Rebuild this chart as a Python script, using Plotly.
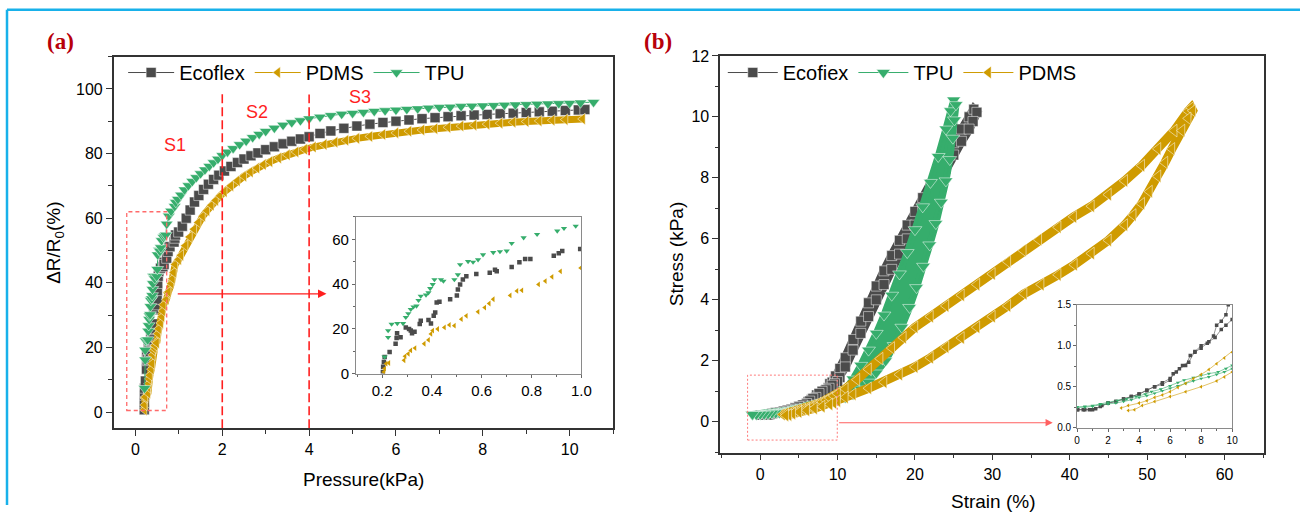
import plotly.graph_objects as go

# ---------------- Panel (a): dR/R0 vs pressure ----------------
ecoflex_p = [0.203, 0.204, 0.207, 0.21, 0.23, 0.254, 0.258, 0.26, 0.274, 0.295, 0.308, 0.315, 0.32, 0.33,
             0.351, 0.355, 0.386, 0.396, 0.407, 0.413, 0.419, 0.43, 0.473, 0.5, 0.504, 0.513, 0.524, 0.538,
             0.578, 0.632, 0.653, 0.66, 0.72, 0.751, 0.774, 0.795, 0.889, 0.909, 0.923, 0.995,
             1.08, 1.17, 1.26, 1.36, 1.46, 1.57, 1.68, 1.8, 1.92, 2.05, 2.2, 2.35, 2.5, 2.66, 2.82, 3.0,
             3.2, 3.4, 3.6, 3.8, 4.0, 4.25, 4.5, 4.8, 5.1, 5.4, 5.7, 6.0, 6.3, 6.6, 6.9, 7.2, 7.5, 7.8,
             8.1, 8.4, 8.7, 9.0, 9.3, 9.6, 9.9, 10.2, 10.35]
ecoflex_r = [0.7, 3, 5.2, 7.4, 9.6, 13.3, 15.9, 18, 16.2, 20.6, 19.9, 19.2, 18, 18.7,
             22.1, 23.6, 23.9, 22.4, 25.8, 27.3, 31.7, 32.1, 33.2, 34.9, 37.6, 39.8, 42, 43.5,
             44.5, 45, 46.4, 45.7, 47.6, 49.7, 51.2, 51.2, 52.6, 53.8, 54.8, 55.7,
             57.5, 60, 62.5, 65, 67, 68.9, 70.5, 72, 73.3, 74.6, 76.0, 77.2, 78.3, 79.3, 80.2, 81.2,
             82.1, 83.0, 83.8, 84.5, 85.2, 86.2, 87.0, 87.8, 88.5, 89.1, 89.6, 90.0, 90.4, 90.8, 91.1, 91.4,
             91.7, 91.9, 92.1, 92.3, 92.5, 92.7, 92.9, 93.1, 93.3, 93.5, 93.6]

pdms_p = [0.207, 0.21, 0.216, 0.227, 0.288, 0.292, 0.305, 0.315, 0.332, 0.369, 0.386, 0.396, 0.403, 0.423,
          0.45, 0.47, 0.49, 0.518, 0.538, 0.585, 0.612, 0.63, 0.646, 0.714, 0.741, 0.761, 0.828, 0.855,
          0.882, 0.916, 0.997,
          1.05, 1.15, 1.25, 1.35, 1.45, 1.55, 1.65, 1.75, 1.85, 1.95, 2.05, 2.2, 2.35, 2.5, 2.65, 2.8,
          2.95, 3.1, 3.3, 3.5, 3.7, 3.9, 4.1, 4.35, 4.6, 4.85, 5.1, 5.4, 5.7, 6.0, 6.3, 6.6, 6.9, 7.2,
          7.5, 7.8, 8.1, 8.4, 8.7, 9.0, 9.3, 9.6, 9.9, 10.3]
pdms_r = [0.7, 2.2, 4.4, 4.7, 5.9, 7.7, 8.8, 10.3, 11.4, 13.3, 15, 17.7, 19.2, 19.9,
          20.6, 21.7, 21.4, 24.3, 25.8, 27.6, 29.5, 31.3, 33.2, 34.9, 36.9, 37.2, 39.8, 41.3,
          43.2, 45.7, 47.2,
          48.5, 51.5, 54.2, 56.6, 58.7, 60.6, 62.3, 64.0, 65.5, 66.9, 68.2, 70.0, 71.6, 73.0, 74.3, 75.5,
          76.6, 77.5, 78.6, 79.6, 80.5, 81.3, 82.0, 82.8, 83.5, 84.1, 84.7, 85.3, 85.9, 86.4, 86.9, 87.3,
          87.7, 88.1, 88.5, 88.8, 89.1, 89.4, 89.7, 89.9, 90.1, 90.3, 90.5, 90.7]

tpu_p = [0.21, 0.224, 0.224, 0.238, 0.261, 0.284, 0.295, 0.305, 0.315, 0.326, 0.338, 0.346, 0.355, 0.376,
         0.386, 0.393, 0.403, 0.41, 0.436, 0.446, 0.49, 0.504, 0.513, 0.545, 0.565, 0.585, 0.605, 0.646,
         0.673, 0.7, 0.72, 0.768, 0.822, 0.903, 0.93, 0.977,
         1.05, 1.13, 1.22, 1.31, 1.4, 1.5, 1.6, 1.7, 1.8, 1.9, 2.0, 2.12, 2.25, 2.4, 2.55, 2.7, 2.85,
         3.0, 3.2, 3.4, 3.6, 3.8, 4.0, 4.25, 4.5, 4.75, 5.0, 5.25, 5.5, 5.75, 6.0, 6.25, 6.5, 6.75,
         7.0, 7.25, 7.5, 7.75, 8.0, 8.25, 8.5, 8.75, 9.0, 9.25, 9.5, 9.75, 10.0, 10.25, 10.55]
tpu_r = [7.4, 19.2, 16.2, 22.1, 22.4, 22.4, 25.1, 26.8, 28.7, 29.8, 30.2, 32.7, 34.6, 35.1,
         36.1, 38, 39.8, 42, 42, 41.3, 42, 44.2, 48.7, 50.1, 49.8, 50.9, 53.1, 54.1,
         54.5, 54.8, 58.2, 60.7, 62.2, 63.7, 64.9, 65.9,
         67.2, 68.8, 70.1, 71.4, 72.6, 73.8, 75.0, 76.1, 77.2, 78.3, 79.4, 80.5, 81.6, 82.8, 83.9, 85.0, 86.0,
         86.9, 87.9, 88.8, 89.6, 90.2, 90.8, 91.3, 91.8, 92.2, 92.5, 92.8, 93.1, 93.3, 93.5, 93.7, 93.9, 94.1,
         94.3, 94.4, 94.6, 94.7, 94.8, 94.9, 95.0, 95.1, 95.2, 95.3, 95.4, 95.5, 95.6, 95.7, 95.9]

# ---------------- Panel (b): stress vs strain (loading + unloading) ----------------
ecoflex_strain = [0.0, 0.4, 0.8, 1.2, 1.6, 2.0, 2.5, 3.0, 3.5, 4.0, 4.5, 5.0, 5.5, 6.0, 6.2, 6.6, 7.0, 7.3,
                  7.6, 8.0, 8.4, 8.8, 9.0, 9.3, 9.6, 9.75, 10.3, 11.0, 12.0, 13.0, 14.0, 15.0, 16.0, 17.0,
                  18.0, 19.0, 20.0, 21.0, 22.0, 23.0, 24.0, 25.0, 26.0, 27.0, 27.6,
                  28.0, 27.5, 27.0, 26.0, 25.0, 24.0, 23.0, 22.0, 21.0, 20.0, 19.0, 18.0, 17.0, 16.0, 15.0,
                  14.0, 13.0, 12.0, 11.0, 10.3, 10.0, 9.6, 9.3, 8.9, 8.5, 8.0, 7.6, 7.2, 6.8, 6.4, 6.0,
                  5.5, 5.0, 4.5, 4.0, 3.5, 3.0, 2.5, 2.0, 1.5, 1.0, 0.5, 0.05]
ecoflex_stress = [0.22, 0.22, 0.22, 0.23, 0.27, 0.30, 0.32, 0.35, 0.38, 0.41, 0.46, 0.50, 0.53, 0.58, 0.66,
                  0.72, 0.76, 0.88, 0.92, 0.97, 1.03, 1.12, 1.25, 1.30, 1.38, 1.50, 1.75, 2.10, 2.70, 3.30,
                  3.90, 4.45, 4.95, 5.45, 5.95, 6.45, 6.90, 7.35, 7.80, 8.25, 8.70, 9.15, 9.60, 10.00, 10.25,
                  10.15, 9.85, 9.6, 9.2, 8.75, 8.3, 7.85, 7.4, 6.95, 6.45, 6.0, 5.5, 5.0, 4.5, 4.0,
                  3.45, 2.9, 2.35, 1.8, 1.45, 1.32, 1.25, 1.2, 1.1, 1.05, 1.0, 0.93, 0.8, 0.76, 0.68, 0.6,
                  0.55, 0.5, 0.45, 0.41, 0.38, 0.35, 0.32, 0.3, 0.26, 0.22, 0.22, 0.22]

tpu_strain = [-1.0, -0.5, 0.0, 0.5, 1.0, 1.5, 2.0, 2.6, 3.2, 3.8, 4.4, 4.8, 5.4, 6.0, 6.5, 6.9, 7.5, 8.0,
              8.5, 9.1, 9.6, 10.0, 11.0, 12.0, 13.0, 14.0, 15.0, 16.0, 17.0, 18.0, 19.0, 20.0, 21.0, 22.0,
              23.0, 24.0, 24.6, 25.0,
              25.3, 25.1, 24.9, 24.5, 24.0, 23.4, 22.7, 21.9, 21.1, 20.2, 19.3, 18.3, 17.3, 16.2, 15.0,
              14.0, 13.0, 12.0, 11.0, 10.0, 9.5, 9.0, 8.5, 8.0, 7.5, 7.0, 6.5, 6.0, 5.5, 5.0, 4.5, 4.0,
              3.5, 3.0, 2.5, 2.0, 1.5, 1.0, 0.5, 0.0, -0.5, -1.0]
tpu_stress = [0.24, 0.25, 0.25, 0.26, 0.27, 0.29, 0.31, 0.33, 0.35, 0.38, 0.41, 0.44, 0.47, 0.51, 0.55, 0.58,
              0.61, 0.64, 0.66, 0.68, 0.72, 0.76, 1.05, 1.4, 1.85, 2.35, 2.9, 3.5, 4.15, 4.85, 5.55, 6.3, 7.05,
              7.85, 8.7, 9.6, 10.2, 10.55,
              10.4, 9.9, 9.3, 8.6, 7.9, 7.2, 6.5, 5.8, 5.1, 4.4, 3.75, 3.1, 2.5, 2.0, 1.6,
              1.3, 1.07, 0.9, 0.8, 0.72, 0.68, 0.65, 0.62, 0.6, 0.57, 0.54, 0.51, 0.48, 0.45, 0.42, 0.39,
              0.37, 0.34, 0.32, 0.3, 0.29, 0.28, 0.26, 0.25, 0.25, 0.24, 0.24]

pdms_strain = [2.85, 3.3, 4.0, 4.5, 5.0, 5.5, 6.0, 6.5, 7.0, 7.5, 8.0, 8.5, 9.0, 9.5, 10.0, 11.0, 12.5,
               14.0, 15.5, 17.0, 18.5, 20.0, 22.0, 24.0, 26.0, 28.0, 30.0, 32.0, 34.0, 36.0, 38.5, 40.5,
               42.8, 45.0, 47.1, 49.3, 51.4, 53.5, 55.3, 55.7,
               55.9, 55.3, 54.5, 53.2, 52.3, 51.4, 50.3, 49.3, 48.2, 47.1, 45.0, 42.8, 40.6, 38.5, 36.3,
               34.1, 32.0, 30.0, 28.0, 26.0, 24.0, 22.0, 20.0, 18.0, 16.0, 14.0, 12.0, 11.0, 10.0, 9.5,
               9.0, 8.0, 7.0, 6.0, 5.0, 4.2, 3.7, 3.3]
pdms_stress = [0.24, 0.27, 0.30, 0.33, 0.37, 0.40, 0.44, 0.49, 0.54, 0.60, 0.65, 0.71, 0.78, 0.85, 0.92, 1.08,
               1.38, 1.72, 2.07, 2.42, 2.76, 3.1, 3.45, 3.8, 4.15, 4.5, 4.85, 5.25, 5.62, 5.97, 6.38, 6.72,
               7.07, 7.45, 7.9, 8.4, 8.95, 9.55, 10.19, 10.3,
               10.2, 9.95, 9.55, 8.95, 8.5, 8.05, 7.55, 7.15, 6.78, 6.45, 5.95, 5.52, 5.15, 4.82, 4.5,
               4.2, 3.8, 3.45, 3.1, 2.75, 2.45, 2.1, 1.8, 1.55, 1.3, 1.1, 0.9, 0.8, 0.68, 0.62,
               0.57, 0.5, 0.44, 0.38, 0.32, 0.27, 0.22, 0.21]

C_ECO = "#4b4b4b"
C_PDMS = "#cf9b00"
C_TPU = "#36ad6c"
FONT = "Liberation Sans, Arial, sans-serif"
W, H = 1310, 513

# the page photograph comes out slightly shrunk; pre-compensate paper positions
SX, OX = 0.989, 3.0
SY, OY = 0.973, 6.2


def px(x):
    return ((x - OX) / SX) / W


def py(y):
    return 1 - ((y - OY) / SY) / H


fig = go.Figure()
WL = dict(color="white", width=0.5)

# ---- (a) main ----
fig.add_trace(go.Scatter(x=ecoflex_p, y=ecoflex_r, mode="lines+markers", name="Ecoflex",
                         line=dict(color=C_ECO, width=1),
                         marker=dict(symbol="square", size=10, color=C_ECO, line=WL),
                         xaxis="x", yaxis="y", legend="legend"))
fig.add_trace(go.Scatter(x=pdms_p, y=pdms_r, mode="lines", showlegend=False, hoverinfo="skip",
                         line=dict(color=C_PDMS, width=7), xaxis="x", yaxis="y"))
fig.add_trace(go.Scatter(x=pdms_p, y=pdms_r, mode="lines+markers", name="PDMS",
                         line=dict(color=C_PDMS, width=1),
                         marker=dict(symbol="triangle-left", size=10, color=C_PDMS, line=WL),
                         xaxis="x", yaxis="y", legend="legend"))
fig.add_trace(go.Scatter(x=tpu_p, y=tpu_r, mode="lines+markers", name="TPU",
                         line=dict(color=C_TPU, width=1),
                         marker=dict(symbol="triangle-down", size=11, color=C_TPU, line=WL),
                         xaxis="x", yaxis="y", legend="legend"))

# ---- (a) inset ----
for xs, ys, c, s, sz in [(ecoflex_p, ecoflex_r, C_ECO, "square", 4.5),
                         (pdms_p, pdms_r, C_PDMS, "triangle-left", 5),
                         (tpu_p, tpu_r, C_TPU, "triangle-down", 5.5)]:
    fig.add_trace(go.Scatter(x=xs, y=ys, mode="markers", showlegend=False, hoverinfo="skip",
                             marker=dict(symbol=s, size=sz, color=c), xaxis="x2", yaxis="y2"))

# ---- (b) main ----
for xs, ys, c, s, sz, bw, nm, fl in [
        (ecoflex_strain, ecoflex_stress, C_ECO, "square", 10, 9, "Ecofiex", "toself"),
        (tpu_strain, tpu_stress, C_TPU, "triangle-down", 12, 7, "TPU", "toself"),
        (pdms_strain, pdms_stress, C_PDMS, "triangle-left", 11, 9, "PDMS", "none")]:
    fig.add_trace(go.Scatter(x=xs, y=ys, mode="lines", showlegend=False, hoverinfo="skip",
                             fill=fl, fillcolor=c,
                             line=dict(color=c, width=bw), xaxis="x3", yaxis="y3"))
    fig.add_trace(go.Scatter(x=xs, y=ys, mode="lines+markers", name=nm,
                             line=dict(color=c, width=1),
                             marker=dict(symbol=s, size=sz, color=c, line=WL),
                             xaxis="x3", yaxis="y3", legend="legend2"))

# ---- (b) inset ----
for xs, ys, c, s in [(ecoflex_strain, ecoflex_stress, C_ECO, "square"),
                     (tpu_strain, tpu_stress, C_TPU, "triangle-down"),
                     (pdms_strain, pdms_stress, C_PDMS, "triangle-left")]:
    fig.add_trace(go.Scatter(x=xs, y=ys, mode="lines+markers", showlegend=False, hoverinfo="skip",
                             line=dict(color=c, width=0.6),
                             marker=dict(symbol=s, size=3.5, color=c), xaxis="x4", yaxis="y4"))


def main_axis(domain, rng, dtick, mdtick, anchor, fsize=16):
    return dict(domain=domain, range=rng, anchor=anchor, dtick=dtick, tick0=0,
                ticks="outside", ticklen=6, tickwidth=1.4, tickcolor="#333",
                minor=dict(dtick=mdtick, tick0=0, ticks="outside", ticklen=3.5, tickwidth=1.2, tickcolor="#333"),
                showline=True, linecolor="#333", linewidth=1.6, mirror=True,
                showgrid=False, zeroline=False,
                tickfont=dict(family=FONT, size=fsize, color="black"))


def inset_axis(domain, rng, dtick, mdtick, anchor, fsize, fmt=None, t0=0):
    d = dict(domain=domain, range=rng, anchor=anchor, dtick=dtick, tick0=t0,
             ticks="outside", ticklen=3, tickwidth=1, tickcolor="#666",
             minor=dict(dtick=mdtick, tick0=t0, ticks="outside", ticklen=2, tickwidth=0.8, tickcolor="#666"),
             showline=True, linecolor="#8a8a8a", linewidth=1, mirror=True,
             showgrid=False, zeroline=False,
             tickfont=dict(family=FONT, size=fsize, color="black"))
    if fmt:
        d["tickformat"] = fmt
    return d


fig.update_layout(
    width=W, height=H, margin=dict(l=0, r=0, t=0, b=0),
    paper_bgcolor="white", plot_bgcolor="white",
    xaxis=main_axis([px(113.6), px(612.4)], [-0.5, 11], 2, 1, "y"),
    yaxis=main_axis([py(428.3), py(55)], [-5, 110], 20, 10, "x"),
    xaxis2=inset_axis([px(355.6), px(580.8)], [0.095, 1.0], 0.2, 0.1, "y2", 15, ".1f"),
    yaxis2=inset_axis([py(373.3), py(216)], [0, 70], 20, 10, "x2", 15),
    xaxis3=main_axis([px(719.4), px(1262.4)], [-5.17, 65.07], 10, 5, "y3"),
    yaxis3=main_axis([py(452.7), py(54.3)], [-1.01, 12], 2, 1, "x3"),
    xaxis4=inset_axis([px(1075.9), px(1230.8)], [0, 10], 2, 1, "y4", 10),
    yaxis4=inset_axis([py(427.7), py(304.3)], [0, 1.5], 0.5, 0.25, "x4", 10, ".1f"),
    legend=dict(x=px(123), y=py(71), xanchor="left", yanchor="middle", orientation="h",
                font=dict(family=FONT, size=20, color="black"), bgcolor="rgba(0,0,0,0)",
                itemwidth=46, tracegroupgap=0),
    legend2=dict(x=px(722), y=py(71), xanchor="left", yanchor="middle", orientation="h",
                 font=dict(family=FONT, size=20, color="black"), bgcolor="rgba(0,0,0,0)",
                 itemwidth=50, tracegroupgap=0),
    showlegend=True,
)

red = "#ff1f1f"
shapes = [
    # figure border (cyan)
    dict(type="line", xref="paper", yref="paper", x0=px(7), x1=1, y0=py(8), y1=py(8),
         line=dict(color="#18b1ea", width=2.5)),
    dict(type="line", xref="paper", yref="paper", x0=px(7), x1=px(7), y0=py(8), y1=0,
         line=dict(color="#18b1ea", width=2.5)),
    # stage boundaries in (a)
    dict(type="line", xref="x", yref="y", x0=2, x1=2, y0=-5, y1=99,
         line=dict(color=red, width=1.6, dash="9px,4px")),
    dict(type="line", xref="x", yref="y", x0=4, x1=4, y0=-5, y1=98.3,
         line=dict(color=red, width=1.6, dash="9px,4px")),
    # zoom boxes
    dict(type="rect", xref="x", yref="y", x0=-0.2, x1=0.72, y0=0.5, y1=62,
         line=dict(color="#ff6a6a", width=1.3, dash="4px,3px")),
    dict(type="rect", xref="x3", yref="y3", x0=-1.63, x1=9.96, y0=-0.6, y1=1.53,
         line=dict(color="#ff7a7a", width=1, dash="2px,2px")),
]
fig.update_layout(shapes=shapes)

ann = []


def txt(x, y, s, size, color="black", angle=0, family=FONT, xref="paper", yref="paper"):
    ann.append(dict(x=x, y=y, xref=xref, yref=yref, text=s, showarrow=False, textangle=angle,
                    xanchor="center", yanchor="middle", font=dict(family=family, size=size, color=color)))


txt(px(55), py(242), "ΔR/R<sub>0</sub>(%)", 19, angle=-90)
txt(px(362.8), py(480), "Pressure(kPa)", 19)
txt(px(675.3), py(253.5), "Stress (kPa)", 19, angle=-90)
txt(px(991.7), py(502), "Strain (%)", 19)
txt(px(60), py(40), "<b>(a)</b>", 23, color="#b8000a", family="Liberation Serif, serif")
txt(px(657), py(40), "<b>(b)</b>", 23, color="#b8000a", family="Liberation Serif, serif")
txt(0.91, 82.6, "S1", 18, color=red, xref="x", yref="y")
txt(2.81, 92.8, "S2", 18, color=red, xref="x", yref="y")
txt(5.17, 97.6, "S3", 18, color=red, xref="x", yref="y")

ann.append(dict(x=4.4, y=36.6, ax=0.94, ay=36.6, xref="x", yref="y", axref="x", ayref="y",
                text="", showarrow=True, arrowhead=2, arrowsize=1.3, arrowwidth=1.3, arrowcolor=red))
ann.append(dict(x=37.8, y=-0.03, ax=10.0, ay=-0.03, xref="x3", yref="y3", axref="x3", ayref="y3",
                text="", showarrow=True, arrowhead=2, arrowsize=1.3, arrowwidth=1.1, arrowcolor="#ff6060"))
fig.update_layout(annotations=ann)

fig.write_html("out.html", config={"displayModeBar": False},
               post_script="document.body.style.margin='0';document.body.style.padding='0';"
                           "document.documentElement.style.overflow='hidden';")
